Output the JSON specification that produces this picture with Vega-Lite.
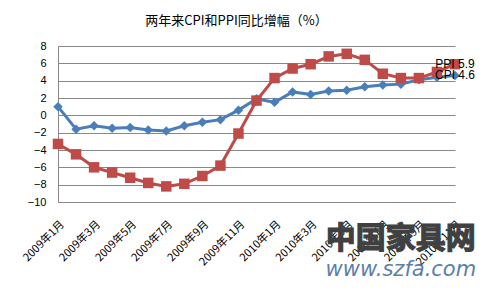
{
  "$schema": "https://vega.github.io/schema/vega-lite/v6.json",
  "width": 397,
  "height": 156,
  "autosize": {"type": "none"},
  "padding": {"left": 58, "top": 46, "right": 28, "bottom": 89},
  "background": "white",
  "config": {"view": {"stroke": null}},
  "title": {"text": "两年来CPI和PPI同比增幅（%）", "font": "Noto Sans CJK SC", "fontSize": 13, "fontWeight": "normal", "color": "#000000", "anchor": "middle", "dx": -20, "offset": 12},
  "datasets": {
    "wm": [{"t": "中国家具网", "u": "www.szfa.com"}]
  },
  "data": {"values": [
    {"month": "2009年1月", "series": "CPI", "value": 1.0},
    {"month": "2009年2月", "series": "CPI", "value": -1.6},
    {"month": "2009年3月", "series": "CPI", "value": -1.2},
    {"month": "2009年4月", "series": "CPI", "value": -1.5},
    {"month": "2009年5月", "series": "CPI", "value": -1.4},
    {"month": "2009年6月", "series": "CPI", "value": -1.7},
    {"month": "2009年7月", "series": "CPI", "value": -1.8},
    {"month": "2009年8月", "series": "CPI", "value": -1.2},
    {"month": "2009年9月", "series": "CPI", "value": -0.8},
    {"month": "2009年10月", "series": "CPI", "value": -0.5},
    {"month": "2009年11月", "series": "CPI", "value": 0.6},
    {"month": "2009年12月", "series": "CPI", "value": 1.9},
    {"month": "2010年1月", "series": "CPI", "value": 1.5},
    {"month": "2010年2月", "series": "CPI", "value": 2.7},
    {"month": "2010年3月", "series": "CPI", "value": 2.4},
    {"month": "2010年4月", "series": "CPI", "value": 2.8},
    {"month": "2010年5月", "series": "CPI", "value": 2.9},
    {"month": "2010年6月", "series": "CPI", "value": 3.3},
    {"month": "2010年7月", "series": "CPI", "value": 3.5},
    {"month": "2010年8月", "series": "CPI", "value": 3.6},
    {"month": "2010年9月", "series": "CPI", "value": 4.1},
    {"month": "2010年10月", "series": "CPI", "value": 4.4},
    {"month": "2010年11月", "series": "CPI", "value": 4.6},
    {"month": "2009年1月", "series": "PPI", "value": -3.3},
    {"month": "2009年2月", "series": "PPI", "value": -4.5},
    {"month": "2009年3月", "series": "PPI", "value": -6.0},
    {"month": "2009年4月", "series": "PPI", "value": -6.6},
    {"month": "2009年5月", "series": "PPI", "value": -7.2},
    {"month": "2009年6月", "series": "PPI", "value": -7.8},
    {"month": "2009年7月", "series": "PPI", "value": -8.2},
    {"month": "2009年8月", "series": "PPI", "value": -7.9},
    {"month": "2009年9月", "series": "PPI", "value": -7.0},
    {"month": "2009年10月", "series": "PPI", "value": -5.8},
    {"month": "2009年11月", "series": "PPI", "value": -2.1},
    {"month": "2009年12月", "series": "PPI", "value": 1.7},
    {"month": "2010年1月", "series": "PPI", "value": 4.3},
    {"month": "2010年2月", "series": "PPI", "value": 5.4},
    {"month": "2010年3月", "series": "PPI", "value": 5.9},
    {"month": "2010年4月", "series": "PPI", "value": 6.8},
    {"month": "2010年5月", "series": "PPI", "value": 7.1},
    {"month": "2010年6月", "series": "PPI", "value": 6.4},
    {"month": "2010年7月", "series": "PPI", "value": 4.8},
    {"month": "2010年8月", "series": "PPI", "value": 4.3},
    {"month": "2010年9月", "series": "PPI", "value": 4.3},
    {"month": "2010年10月", "series": "PPI", "value": 5.0},
    {"month": "2010年11月", "series": "PPI", "value": 5.9}
  ]},
  "layer": [
    {
      "mark": {"type": "line", "strokeWidth": 3},
      "encoding": {
        "x": {
          "field": "month", "type": "ordinal", "sort": null,
          "scale": {"type": "point", "padding": 0},
          "axis": {
            "title": null,
            "values": ["2009年1月", "2009年3月", "2009年5月", "2009年7月", "2009年9月", "2009年11月", "2010年1月", "2010年3月", "2010年5月", "2010年7月", "2010年9月", "2010年11月"],
            "labelAngle": -45, "labelFont": "Noto Sans CJK SC", "labelFontSize": 11, "labelColor": "#000000",
            "labelPadding": 16, "ticks": false, "domain": true, "domainColor": "#888888", "grid": false
          }
        },
        "y": {
          "field": "value", "type": "quantitative",
          "scale": {"domain": [-10, 8], "nice": false, "zero": false},
          "axis": {
            "title": null, "values": [-10, -8, -6, -4, -2, 0, 2, 4, 6, 8], "tickCount": 10,
            "labelFont": "Liberation Sans", "labelFontSize": 11, "labelColor": "#000000", "labelPadding": 12,
            "ticks": false, "domain": true, "domainColor": "#888888",
            "grid": true, "gridColor": "#888888", "gridWidth": 1
          }
        },
        "color": {"field": "series", "type": "nominal", "scale": {"domain": ["CPI", "PPI"], "range": ["#4A7EBB", "#BE4B48"]}, "legend": null}
      }
    },
    {
      "mark": {"type": "point", "filled": true, "opacity": 1},
      "encoding": {
        "x": {"field": "month", "type": "ordinal", "sort": null},
        "y": {"field": "value", "type": "quantitative"},
        "color": {"field": "series", "type": "nominal", "legend": null},
        "shape": {"field": "series", "type": "nominal", "scale": {"domain": ["CPI", "PPI"], "range": ["diamond", "square"]}, "legend": null},
        "size": {"field": "series", "type": "nominal", "scale": {"domain": ["CPI", "PPI"], "range": [90, 110]}, "legend": null}
      }
    },
    {
      "transform": [
        {"filter": "datum.month === '2010年11月'"},
        {"calculate": "datum.series + ' ' + format(datum.value, '.1f')", "as": "label"}
      ],
      "mark": {"type": "text", "font": "Liberation Sans", "fontSize": 12, "color": "#000000", "align": "center", "baseline": "middle"},
      "encoding": {
        "x": {"field": "month", "type": "ordinal", "sort": null},
        "y": {"field": "value", "type": "quantitative"},
        "text": {"field": "label"}
      }
    },
    {
      "data": {"name": "wm"},
      "mark": {"type": "text", "font": "Noto Sans CJK SC", "fontWeight": "bold", "fontSize": 30, "fill": "#404040", "stroke": "#404040", "strokeWidth": 1.2, "align": "center", "baseline": "middle"},
      "encoding": {
        "x": {"datum": "2010年8月", "type": "ordinal"},
        "y": {"datum": -14.3, "type": "quantitative", "axis": {"values": [-10, -8, -6, -4, -2, 0, 2, 4, 6, 8], "tickCount": 10}},
        "text": {"field": "t"}
      }
    },
    {
      "data": {"name": "wm"},
      "mark": {"type": "text", "font": "DejaVu Sans", "fontStyle": "italic", "fontSize": 21, "fill": "#5A80AA", "align": "center", "baseline": "middle"},
      "encoding": {
        "x": {"datum": "2010年8月", "type": "ordinal"},
        "y": {"datum": -17.9, "type": "quantitative", "axis": {"values": [-10, -8, -6, -4, -2, 0, 2, 4, 6, 8], "tickCount": 10}},
        "text": {"field": "u"}
      }
    }
  ]
}
